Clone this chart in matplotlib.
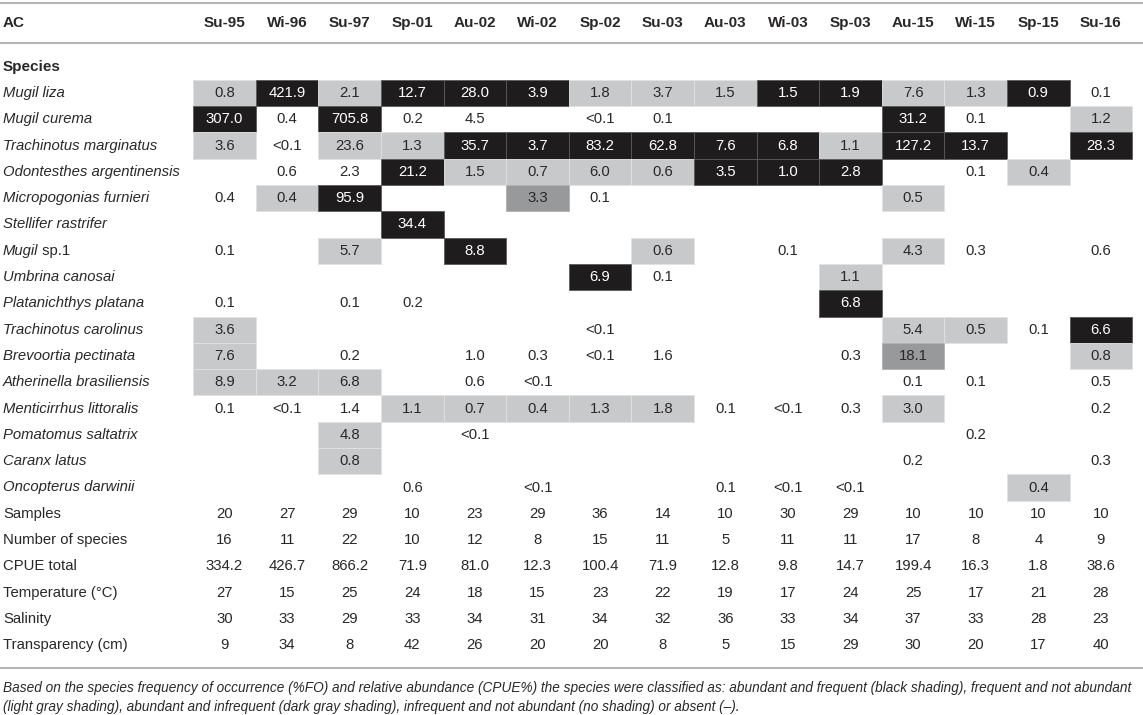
import matplotlib
matplotlib.use('Agg')
import matplotlib.pyplot as plt
from matplotlib.patches import Rectangle

# column headers (sampling campaigns)
seasons = ['Su-95', 'Wi-96', 'Su-97', 'Sp-01', 'Au-02', 'Wi-02', 'Sp-02', 'Su-03',
           'Au-03', 'Wi-03', 'Sp-03', 'Au-15', 'Wi-15', 'Sp-15', 'Su-16']

species = ['Mugil liza', 'Mugil curema', 'Trachinotus marginatus', 'Odontesthes argentinensis',
           'Micropogonias furnieri', 'Stellifer rastrifer', 'Mugil sp.1', 'Umbrina canosai',
           'Platanichthys platana', 'Trachinotus carolinus', 'Brevoortia pectinata',
           'Atherinella brasiliensis', 'Menticirrhus littoralis', 'Pomatomus saltatrix',
           'Caranx latus', 'Oncopterus darwinii']

# CPUE values per species ('' = absent)
cpue = [
    ['0.8', '421.9', '2.1', '12.7', '28.0', '3.9', '1.8', '3.7', '1.5', '1.5', '1.9', '7.6', '1.3', '0.9', '0.1'],
    ['307.0', '0.4', '705.8', '0.2', '4.5', '', '<0.1', '0.1', '', '', '', '31.2', '0.1', '', '1.2'],
    ['3.6', '<0.1', '23.6', '1.3', '35.7', '3.7', '83.2', '62.8', '7.6', '6.8', '1.1', '127.2', '13.7', '', '28.3'],
    ['', '0.6', '2.3', '21.2', '1.5', '0.7', '6.0', '0.6', '3.5', '1.0', '2.8', '', '0.1', '0.4', ''],
    ['0.4', '0.4', '95.9', '', '', '3.3', '0.1', '', '', '', '', '0.5', '', '', ''],
    ['', '', '', '34.4', '', '', '', '', '', '', '', '', '', '', ''],
    ['0.1', '', '5.7', '', '8.8', '', '', '0.6', '', '0.1', '', '4.3', '0.3', '', '0.6'],
    ['', '', '', '', '', '', '6.9', '0.1', '', '', '1.1', '', '', '', ''],
    ['0.1', '', '0.1', '0.2', '', '', '', '', '', '', '6.8', '', '', '', ''],
    ['3.6', '', '', '', '', '', '<0.1', '', '', '', '', '5.4', '0.5', '0.1', '6.6'],
    ['7.6', '', '0.2', '', '1.0', '0.3', '<0.1', '1.6', '', '', '0.3', '18.1', '', '', '0.8'],
    ['8.9', '3.2', '6.8', '', '0.6', '<0.1', '', '', '', '', '', '0.1', '0.1', '', '0.5'],
    ['0.1', '<0.1', '1.4', '1.1', '0.7', '0.4', '1.3', '1.8', '0.1', '<0.1', '0.3', '3.0', '', '', '0.2'],
    ['', '', '4.8', '', '<0.1', '', '', '', '', '', '', '', '0.2', '', ''],
    ['', '', '0.8', '', '', '', '', '', '', '', '', '0.2', '', '', '0.3'],
    ['', '', '', '0.6', '', '<0.1', '', '', '0.1', '<0.1', '<0.1', '', '', '0.4', ''],
]

# classification: k = abundant & frequent, l = frequent not abundant,
# d = abundant infrequent, . = no shading
shade = [
    'lkl' 'kkk' 'lll' 'kkl' 'lk.',
    'k.k' '...' '...' '..k' '..l',
    'l.l' 'lkk' 'kkk' 'klk' 'k.k',
    '...' 'kll' 'llk' 'kk.' '.l.',
    '.lk' '..d' '...' '..l' '...',
    '...' 'k..' '...' '...' '...',
    '..l' '.k.' '.l.' '..l' '...',
    '...' '...' 'k..' '.l.' '...',
    '...' '...' '...' '.k.' '...',
    'l..' '...' '...' '..l' 'l.k',
    'l..' '...' '...' '..d' '..l',
    'lll' '...' '...' '...' '...',
    '...' 'lll' 'll.' '..l' '...',
    '..l' '...' '...' '...' '...',
    '..l' '...' '...' '...' '...',
    '...' '...' '...' '...' '.l.',
]

summary_labels = ['Samples', 'Number of species', 'CPUE total', 'Temperature (\u00b0C)',
                  'Salinity', 'Transparency (cm)']
samples = [20, 27, 29, 10, 23, 29, 36, 14, 10, 30, 29, 10, 10, 10, 10]
n_species = [16, 11, 22, 10, 12, 8, 15, 11, 5, 11, 11, 17, 8, 4, 9]
cpue_total = ['334.2', '426.7', '866.2', '71.9', '81.0', '12.3', '100.4', '71.9',
              '12.8', '9.8', '14.7', '199.4', '16.3', '1.8', '38.6']
temperature = [27, 15, 25, 24, 18, 15, 23, 22, 19, 17, 24, 25, 17, 21, 28]
salinity = [30, 33, 29, 33, 34, 31, 34, 32, 36, 33, 34, 37, 33, 28, 23]
transparency = [9, 34, 8, 42, 26, 20, 20, 8, 5, 15, 29, 30, 20, 17, 40]
summary = [samples, n_species, cpue_total, temperature, salinity, transparency]

footnote = ['Based on the species frequency of occurrence (%FO) and relative abundance (CPUE%) '
            'the species were classified as: abundant and frequent (black shading), frequent and not abundant',
            '(light gray shading), abundant and infrequent (dark gray shading), infrequent and not abundant '
            '(no shading) or absent (\u2013).']

# layout (pixels)
W, H = 1143, 715
COL0, DX = 224.5, 62.6
ROW0, DY = 93.0, 26.3
TXT = '#2a2728'
FILL = {'k': '#1f1c1d', 'l': '#c8c9cb', 'd': '#98999b'}
EDGE = {'k': '#5a5a5a', 'l': '#e2e2e2', 'd': '#b0b0b0'}
FS = 10.7
FS_HEAD = 11
FS_NOTE = 9.85

plt.rcParams['font.family'] = ['Liberation Sans', 'DejaVu Sans']

fig = plt.figure(figsize=(W / 100, H / 100), dpi=100)
ax = fig.add_axes([0, 0, 1, 1])
ax.set_xlim(0, W)
ax.set_ylim(H, 0)
ax.axis('off')

# rules
for y in (3, 43, 668):
    ax.plot([0, W], [y, y], color='#b4b4b4', lw=1.5, solid_capstyle='butt')

# header
ax.text(3, 23, 'AC', fontsize=FS_HEAD, fontweight='bold', color=TXT, va='center')
for j, s in enumerate(seasons):
    ax.text(COL0 + j * DX, 23, s, fontsize=FS_HEAD, fontweight='bold', color=TXT,
            ha='center', va='center')

ax.text(3, ROW0 - DY, 'Species', fontsize=FS_HEAD, fontweight='bold', color=TXT, va='center')

renderer = fig.canvas.get_renderer()
for i, name in enumerate(species):
    y = ROW0 + i * DY
    if name.endswith('sp.1'):
        t = ax.text(3, y, name.split(' ')[0], fontsize=FS, style='italic', color=TXT, va='center')
        bb = t.get_window_extent(renderer=renderer)
        ax.text(bb.x1 / fig.dpi * 100, y, '\u00a0sp.1', fontsize=FS, color=TXT, va='center')
    else:
        ax.text(3, y, name, fontsize=FS, style='italic', color=TXT, va='center')
    for j, v in enumerate(cpue[i]):
        x = COL0 + j * DX
        c = shade[i][j]
        if c != '.':
            ax.add_patch(Rectangle((x - DX / 2, y - DY / 2), DX, DY, facecolor=FILL[c],
                                   edgecolor=EDGE[c], lw=0.6))
        if v:
            ax.text(x, y, v, fontsize=FS, color='white' if c == 'k' else TXT,
                    ha='center', va='center')

base = ROW0 + len(species) * DY
for i, lab in enumerate(summary_labels):
    y = base + i * DY
    ax.text(3, y, lab, fontsize=FS, color=TXT, va='center')
    for j, v in enumerate(summary[i]):
        ax.text(COL0 + j * DX, y, str(v), fontsize=FS, color=TXT, ha='center', va='center')

for k, line in enumerate(footnote):
    ax.text(3, 688 + k * 18.5, line, fontsize=FS_NOTE, style='italic', color=TXT, va='center')

fig.savefig('out.png', dpi=100)
